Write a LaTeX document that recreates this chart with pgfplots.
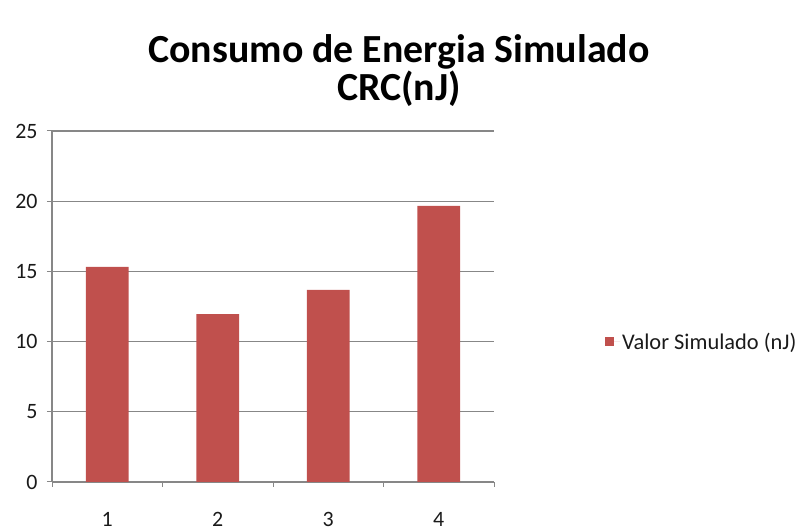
\documentclass[border=0pt]{standalone}
\usepackage{fontspec}
\setmainfont{Carlito}
\usepackage{pgfplots}
\pgfplotsset{compat=1.18}
\definecolor{barred}{HTML}{C0504D}
\definecolor{gridgray}{HTML}{878787}
\definecolor{txt}{HTML}{1A1A1A}
\begin{document}
\begin{tikzpicture}[x=1bp,y=1bp]
\useasboundingbox (0,0) rectangle (803,532);
\node[anchor=base,font=\fontsize{40}{40}\selectfont\bfseries,inner sep=0] at (399,469) {Consumo de Energia Simulado};
\node[anchor=base,font=\fontsize{40}{40}\selectfont\bfseries,inner sep=0] at (399,431) {CRC(nJ)};
\begin{axis}[
  at={(52bp,50bp)}, anchor=south west,
  scale only axis, width=442bp, height=351bp,
  xmin=0.5, xmax=4.5, ymin=0, ymax=25,
  ytick={0,5,10,15,20,25},
  xtick={1,2,3,4},
  major x tick style={draw=none},
  extra x ticks={0.5,1.5,2.5,3.5,4.5},
  extra x tick labels={},
  extra x tick style={major tick length=5bp, tick align=outside, major x tick style={draw=gridgray, line width=1bp}, grid=none},
  axis lines*=left,
  axis line style={gridgray, line width=1.2bp},
  ymajorgrids, major grid style={gridgray, line width=1.2bp},
  y tick style={gridgray, line width=1bp},
  major tick length=5bp, tick align=outside,
  /pgf/number format/assume math mode=true,
  ticklabel style={font=\fontsize{22}{22}\selectfont, text=txt},
  yticklabel style={xshift=-6bp},
  xticklabel style={yshift=-22bp},
  legend style={at={(1.251,0.40)}, anchor=west, draw=none, fill=none, inner sep=0pt,
     font=\fontsize{22.5}{22.5}\selectfont, text=txt, legend cell align=left},
  legend image code/.code={\fill[barred] (0bp,-4.5bp) rectangle (9bp,4.5bp); \path (0bp,0bp) -- (15bp,0bp);},
  clip=false,
]
\addplot[ybar, bar width=42.7bp, fill=barred, draw=none] coordinates {(1,15.32) (2,11.96) (3,13.69) (4,19.67)};
\addlegendentry{Valor Simulado (nJ)}
\end{axis}
\end{tikzpicture}
\end{document}
